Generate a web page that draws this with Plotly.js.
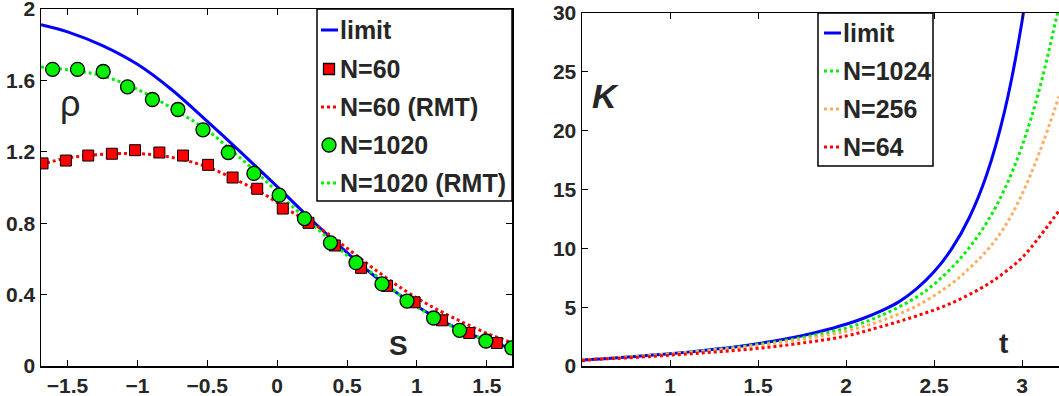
<!DOCTYPE html>
<html>
<head>
<meta charset="utf-8">
<script src="https://cdn.plot.ly/plotly-3.0.1.min.js"></script>
<style>html,body{margin:0;padding:0;background:#fff;}#chart{width:1059px;height:396px;}</style>
</head>
<body>
<div id="chart"></div>
<script>
// ---- Left panel: density rho(S) ----
const sLimit   = [-1.69, -1.5, -1.25, -1.0, -0.75, -0.5, -0.25, 0, 0.25, 0.5, 0.75, 1.0, 1.25, 1.5, 1.69];
const rhoLimit = [1.912, 1.872, 1.795, 1.69, 1.545, 1.37, 1.19, 1.005, 0.815, 0.635, 0.47, 0.335, 0.225, 0.142, 0.098];

const sRMT       = [-1.69, -1.5, -1.3, -1.1, -0.9, -0.7, -0.5, -0.3, -0.1, 0.1, 0.3, 0.5, 0.7, 0.9, 1.1, 1.3, 1.5, 1.69];
const rho60RMT   = [1.13, 1.165, 1.183, 1.191, 1.185, 1.16, 1.115, 1.045, 0.965, 0.865, 0.775, 0.66, 0.54, 0.43, 0.335, 0.255, 0.183, 0.128];
const rho1020RMT = [1.675, 1.66, 1.635, 1.585, 1.51, 1.42, 1.32, 1.19, 1.05, 0.9, 0.76, 0.62, 0.51, 0.385, 0.285, 0.205, 0.145, 0.105];

const s60   = [-1.679, -1.512, -1.352, -1.183, -1.017, -0.843, -0.674, -0.495, -0.319, -0.143, 0.04, 0.224, 0.412, 0.6, 0.786, 0.983, 1.179, 1.374, 1.571];
const rho60 = [1.135, 1.151, 1.179, 1.189, 1.209, 1.196, 1.179, 1.127, 1.056, 0.993, 0.882, 0.802, 0.675, 0.55, 0.449, 0.357, 0.256, 0.185, 0.129];

const s1020   = [-1.607, -1.429, -1.245, -1.071, -0.893, -0.71, -0.531, -0.35, -0.167, 0.014, 0.195, 0.381, 0.564, 0.75, 0.929, 1.119, 1.305, 1.493, 1.679];
const rho1020 = [1.662, 1.662, 1.65, 1.564, 1.493, 1.437, 1.323, 1.196, 1.079, 0.957, 0.826, 0.69, 0.579, 0.46, 0.364, 0.269, 0.2, 0.14, 0.101];

const leftXTicks = [-1.5, -1, -0.5, 0, 0.5, 1, 1.5];
const leftXText  = ['\u22121.5', '\u22121', '\u22120.5', '0', '0.5', '1', '1.5'];
const leftYTicks = [0, 0.4, 0.8, 1.2, 1.6, 2];
const leftYText  = ['0', '0.4', '0.8', '1.2', '1.6', '2'];
const leftNames  = ['limit', 'N=60', 'N=60 (RMT)', 'N=1020', 'N=1020 (RMT)'];

// ---- Right panel: K(t) ----
const tLimit = [0.5, 0.6, 0.7, 0.8, 0.9, 1.0, 1.1, 1.2, 1.3, 1.4, 1.5, 1.6, 1.7, 1.8, 1.9, 2.0, 2.1, 2.2, 2.3, 2.4, 2.5, 2.6, 2.7, 2.8, 2.9, 3.0, 3.1];
const kLimit = [0.5, 0.6, 0.7, 0.81, 0.93, 1.05, 1.18, 1.33, 1.5, 1.68, 1.9, 2.14, 2.42, 2.74, 3.12, 3.55, 4.06, 4.68, 5.45, 6.55, 8.0, 9.95, 12.6, 16.3, 21.6, 29.3, 40.5];

const t1024 = [0.5, 0.75, 1.0, 1.25, 1.5, 1.75, 2.0, 2.2, 2.4, 2.5, 2.6, 2.7, 2.8, 2.9, 3.0, 3.1, 3.2, 3.22];
const k1024 = [0.5, 0.76, 1.03, 1.38, 1.83, 2.42, 3.22, 4.3, 5.85, 6.95, 8.35, 10.05, 12.2, 15.0, 18.7, 23.6, 29.9, 31.2];

const t256 = [0.5, 0.75, 1.0, 1.25, 1.5, 1.75, 2.0, 2.2, 2.4, 2.6, 2.7, 2.8, 2.9, 3.0, 3.1, 3.21];
const k256 = [0.5, 0.75, 1.02, 1.35, 1.76, 2.27, 2.95, 3.85, 5.1, 7.0, 8.3, 9.8, 11.8, 14.6, 18.2, 22.9];

const t64 = [0.5, 0.6, 0.75, 1.0, 1.25, 1.5, 1.75, 2.0, 2.2, 2.4, 2.6, 2.8, 2.9, 3.0, 3.1, 3.21];
const k64 = [0.45, 0.58, 0.68, 0.92, 1.18, 1.5, 1.95, 2.55, 3.35, 4.25, 5.35, 6.9, 7.95, 9.2, 11.0, 13.2];

const rightXTicks = [1, 1.5, 2, 2.5, 3];
const rightXText  = ['1', '1.5', '2', '2.5', '3'];
const rightYTicks = [0, 5, 10, 15, 20, 25, 30];
const rightYText  = ['0', '5', '10', '15', '20', '25', '30'];
const rightNames  = ['limit', 'N=1024', 'N=256', 'N=64'];

const FONT = 'Liberation Sans, Arial, Helvetica, sans-serif';
const TXT = '#262626';
const W = 1059, H = 396;
const BLUE = '#0000ff', RED = '#ff0000', GREEN = '#00f000', ORANGE = '#ffad60';
const bold = a => a.map(s => '<b>' + s + '</b>');

const traces = [
  {x: sLimit, y: rhoLimit, xaxis: 'x', yaxis: 'y', name: leftNames[0], mode: 'lines',
   line: {color: BLUE, width: 3, shape: 'spline'}},
  {x: sRMT, y: rho60RMT, xaxis: 'x', yaxis: 'y', name: leftNames[2], mode: 'lines',
   line: {color: RED, width: 3, dash: 'dot', shape: 'spline'}},
  {x: sRMT, y: rho1020RMT, xaxis: 'x', yaxis: 'y', name: leftNames[4], mode: 'lines',
   line: {color: GREEN, width: 3, dash: 'dot', shape: 'spline'}},
  {x: s60, y: rho60, xaxis: 'x', yaxis: 'y', name: leftNames[1], mode: 'markers',
   marker: {symbol: 'square', size: 11, color: RED, line: {color: '#000', width: 1}}},
  {x: s1020, y: rho1020, xaxis: 'x', yaxis: 'y', name: leftNames[3], mode: 'markers',
   marker: {symbol: 'circle', size: 14, color: GREEN, line: {color: '#000', width: 1.3}}},

  {x: tLimit, y: kLimit, xaxis: 'x2', yaxis: 'y2', name: rightNames[0], mode: 'lines',
   line: {color: BLUE, width: 3, shape: 'spline'}},
  {x: t1024, y: k1024, xaxis: 'x2', yaxis: 'y2', name: rightNames[1], mode: 'lines',
   line: {color: GREEN, width: 3, dash: 'dot', shape: 'spline'}},
  {x: t256, y: k256, xaxis: 'x2', yaxis: 'y2', name: rightNames[2], mode: 'lines',
   line: {color: ORANGE, width: 3, dash: 'dot', shape: 'spline'}},
  {x: t64, y: k64, xaxis: 'x2', yaxis: 'y2', name: rightNames[3], mode: 'lines',
   line: {color: RED, width: 3, dash: 'dot', shape: 'spline'}}
];

const axisCommon = {
  showgrid: false, zeroline: false, showline: true, linecolor: '#000', linewidth: 1.5,
  ticks: 'inside', ticklen: 6, tickcolor: '#000', tickwidth: 1, ticklabeloverflow: 'allow',
  tickfont: {family: FONT, size: 21, color: TXT, weight: 'bold'}
};

// ---- hand-built legends (paper pixel helpers) ----
const px = v => v / W, py = v => 1 - v / H;
const shapes = [];
const annotations = [];
function legendBox(x0, y0, x1, y1) {
  shapes.push({type: 'rect', xref: 'paper', yref: 'paper', x0: px(x0), x1: px(x1), y0: py(y0), y1: py(y1),
    line: {color: '#000', width: 1.5}, fillcolor: '#fff', layer: 'above'});
}
function legendLine(x0, x1, y, color, dash) {
  shapes.push({type: 'line', xref: 'paper', yref: 'paper', x0: px(x0), x1: px(x1), y0: py(y), y1: py(y),
    line: {color: color, width: 3, dash: dash}, layer: 'above'});
}
function legendMarker(cx, cy, r, kind, color) {
  shapes.push({type: kind, xref: 'paper', yref: 'paper', x0: px(cx - r), x1: px(cx + r), y0: py(cy + r), y1: py(cy - r),
    line: {color: '#000', width: 1.3}, fillcolor: color, layer: 'above'});
}
function legendText(x, y, s) {
  annotations.push({text: '<b>' + s + '</b>', xref: 'paper', yref: 'paper', x: px(x), y: py(y),
    xanchor: 'left', yanchor: 'middle', showarrow: false,
    font: {family: FONT, size: 25, color: TXT}});
}

// left legend
const leftRows = [30, 69, 107, 145, 183];
legendBox(317, 9, 512, 201);
legendLine(321, 338, leftRows[0], BLUE, 'solid');
legendMarker(329, leftRows[1], 5.5, 'rect', RED);
legendLine(321, 338, leftRows[2], RED, 'dot');
legendMarker(329, leftRows[3], 7, 'circle', GREEN);
legendLine(321, 338, leftRows[4], GREEN, 'dot');
leftNames.forEach((n, i) => legendText(338, leftRows[i], n));

// right legend
const rightRows = [33, 71, 109, 147];
legendBox(818, 13, 933, 166);
legendLine(824, 841, rightRows[0], BLUE, 'solid');
legendLine(824, 841, rightRows[1], GREEN, 'dot');
legendLine(824, 841, rightRows[2], ORANGE, 'dot');
legendLine(824, 841, rightRows[3], RED, 'dot');
rightNames.forEach((n, i) => legendText(841, rightRows[i], n));

// axis-label annotations
annotations.push(
  {text: 'ρ', xref: 'paper', yref: 'paper', x: px(70), y: py(103), xanchor: 'center', yanchor: 'middle',
   showarrow: false, font: {family: FONT, size: 36, color: TXT}},
  {text: '<b>S</b>', xref: 'paper', yref: 'paper', x: px(398), y: py(345), xanchor: 'center', yanchor: 'middle',
   showarrow: false, font: {family: FONT, size: 28, color: TXT}},
  {text: '<b><i>K</i></b>', xref: 'paper', yref: 'paper', x: px(605), y: py(96), xanchor: 'center', yanchor: 'middle',
   showarrow: false, font: {family: FONT, size: 34, color: TXT}},
  {text: '<b>t</b>', xref: 'paper', yref: 'paper', x: px(1003), y: py(343), xanchor: 'center', yanchor: 'middle',
   showarrow: false, font: {family: FONT, size: 28, color: TXT}}
);

const layout = {
  width: W, height: H,
  margin: {l: 0, r: 0, t: 0, b: 0, pad: 0},
  paper_bgcolor: '#fff', plot_bgcolor: '#fff',
  showlegend: false,
  xaxis: Object.assign({}, axisCommon, {domain: [41/W, 512/W], range: [-1.69, 1.68],
    tickvals: leftXTicks, ticktext: bold(leftXText), mirror: 'ticks', anchor: 'y'}),
  yaxis: Object.assign({}, axisCommon, {domain: [30/H, 387/H], range: [0, 2],
    tickvals: leftYTicks, ticktext: bold(leftYText), mirror: 'ticks', anchor: 'x'}),
  xaxis2: Object.assign({}, axisCommon, {domain: [582/W, 1], range: [0.5, 3.21],
    tickvals: rightXTicks, ticktext: bold(rightXText), mirror: 'ticks', anchor: 'y2'}),
  yaxis2: Object.assign({}, axisCommon, {domain: [30/H, 383/H], range: [0, 30],
    tickvals: rightYTicks, ticktext: bold(rightYText), mirror: false, anchor: 'x2'}),
  shapes: shapes,
  annotations: annotations
};

Plotly.newPlot('chart', traces, layout, {staticPlot: true, displayModeBar: false});
</script>
</body>
</html>
